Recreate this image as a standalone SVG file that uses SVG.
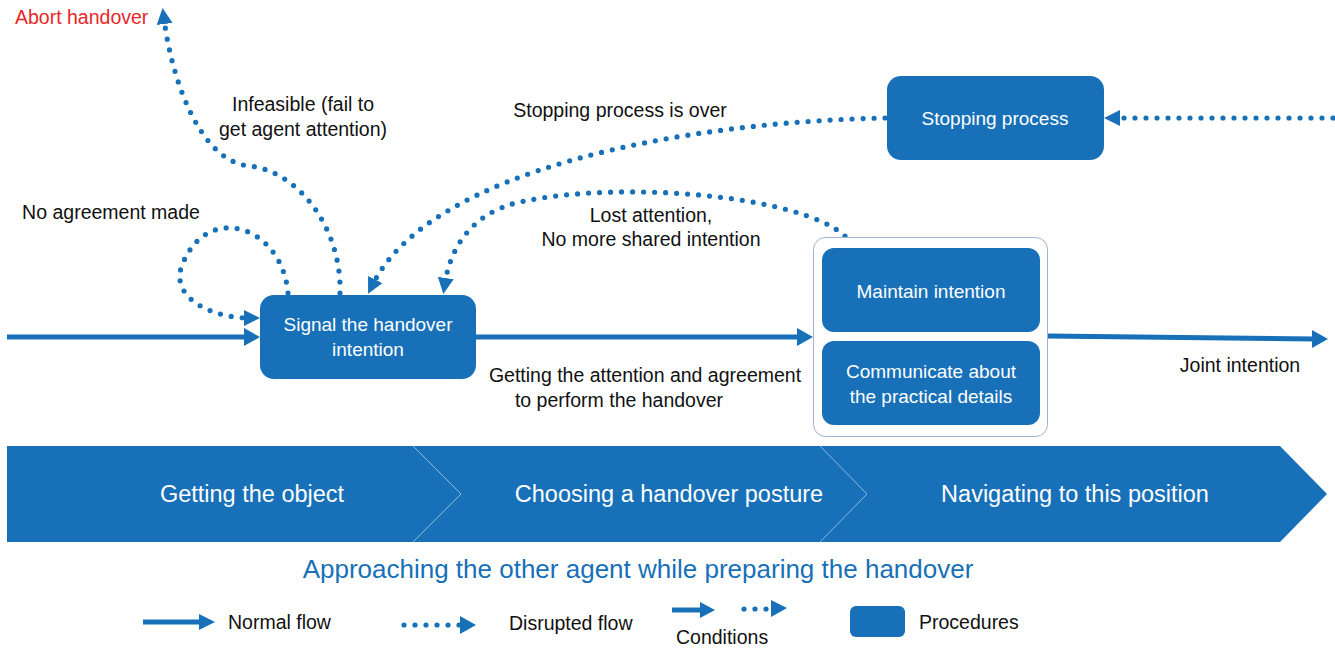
<svg xmlns="http://www.w3.org/2000/svg" width="1335" height="649" viewBox="0 0 1335 649">
<style>
  .proc { fill: #1770B8; }
  .wt { fill: #FFFFFF; font-family: "Liberation Sans", Arial, sans-serif; font-size: 19px; text-anchor: middle; }
  .bt { fill: #111111; font-family: "Liberation Sans", Arial, sans-serif; font-size: 19.5px; text-anchor: middle; }
  .lt { fill: #111111; font-family: "Liberation Sans", Arial, sans-serif; font-size: 19.5px; }
  .band { fill: #FFFFFF; font-family: "Liberation Sans", Arial, sans-serif; font-size: 23.5px; text-anchor: middle; }
  .solid { stroke: #1770B8; stroke-width: 5; fill: none; }
  .dot { stroke: #1770B8; stroke-width: 5.2; fill: none; stroke-linecap: round; stroke-dasharray: 0 11; }
  .head { fill: #1770B8; }
</style>
<defs>
  <marker id="dh" viewBox="0 0 16 16" refX="5" refY="8" markerWidth="16" markerHeight="16" markerUnits="userSpaceOnUse" orient="auto">
    <path d="M0,0 L16,8 L0,16 z" fill="#1770B8"/>
  </marker>
</defs>
<rect width="1335" height="649" fill="#FFFFFF"/>

<g id="connectors">
  <line class="solid" x1="7" y1="337" x2="246" y2="337"/>
  <polygon class="head" points="244,328 260,337 244,346"/>
  <line class="solid" x1="476" y1="337" x2="799" y2="337"/>
  <polygon class="head" points="797,328 813,337 797,346"/>
  <line class="solid" x1="1047" y1="336" x2="1314" y2="339"/>
  <polygon class="head" points="1312,330 1328,339 1312,348"/>
  <path class="dot" marker-end="url(#dh)" d="M 288 293 C 282 225, 205 200, 181 268 C 172 300, 215 318, 249 318"/>
  <path class="dot" marker-end="url(#dh)" d="M 340 293 C 342 230, 300 172, 250 166 C 200 162, 172 80, 164 19"/>
  <path class="dot" marker-end="url(#dh)" d="M 885 118 C 680 122, 430 170, 373 284"/>
  <path class="dot" marker-end="url(#dh)" d="M 845 236 C 800 195, 620 180, 520 202 C 470 213, 450 250, 445 283"/>
  <path class="dot" marker-end="url(#dh)" d="M 1333 118 L 1115 118"/>
</g>

<g id="n-signal">
  <rect class="proc" x="260" y="295" width="216" height="84" rx="14"/>
  <text class="wt" x="368" y="331">Signal the handover</text>
  <text class="wt" x="368" y="356">intention</text>
</g>

<g id="n-stopping">
  <rect class="proc" x="887" y="76" width="217" height="84" rx="14"/>
  <text class="wt" x="995" y="125">Stopping process</text>
</g>

<g id="n-container">
  <rect x="813.5" y="237.5" width="234" height="199" rx="12" fill="#FFFFFF" stroke="#9DB3CF" stroke-width="1"/>
</g>
<g id="n-maintain">
  <rect class="proc" x="822" y="248" width="218" height="84" rx="12"/>
  <text class="wt" x="931" y="298">Maintain intention</text>
</g>
<g id="n-communicate">
  <rect class="proc" x="822" y="341" width="218" height="84" rx="12"/>
  <text class="wt" x="931" y="378">Communicate about</text>
  <text class="wt" x="931" y="403">the practical details</text>
</g>

<g id="labels">
  <text x="15" y="24" font-family="Liberation Sans, Arial, sans-serif" font-size="19.5" fill="#E8262A">Abort handover</text>
  <text class="bt" x="303" y="111">Infeasible (fail to</text>
  <text class="bt" x="303" y="136">get agent attention)</text>
  <text class="bt" x="111" y="219">No agreement made</text>
  <text class="bt" x="620" y="117">Stopping process is over</text>
  <text class="bt" x="651" y="222">Lost attention,</text>
  <text class="bt" x="651" y="246">No more shared intention</text>
  <text class="bt" x="645" y="382">Getting the attention and agreement</text>
  <text class="bt" x="619" y="407">to perform the handover</text>
  <text class="bt" x="1240" y="372">Joint intention</text>
</g>

<g id="n-band">
  <polygon class="proc" points="7,446 1280,446 1327,494 1280,542 7,542"/>
  <polyline points="413,446 461,494 413,542" fill="none" stroke="#8FB8DE" stroke-width="1"/>
  <polyline points="820,446 867,494 820,542" fill="none" stroke="#8FB8DE" stroke-width="1"/>
  <text class="band" x="252" y="502">Getting the object</text>
  <text class="band" x="669" y="502">Choosing a handover posture</text>
  <text class="band" x="1075" y="502">Navigating to this position</text>
</g>

<g id="caption">
  <text x="638" y="578" font-family="Liberation Sans, Arial, sans-serif" font-size="26" fill="#1770B8" text-anchor="middle">Approaching the other agent while preparing the handover</text>
</g>

<g id="legend">
  <line class="solid" x1="143" y1="622" x2="201" y2="622"/>
  <polygon class="head" points="199,614 215,622 199,630"/>
  <text class="lt" x="228" y="629">Normal flow</text>
  <line class="dot" x1="404" y1="625" x2="460" y2="625"/>
  <polygon class="head" points="460,616 476,625 460,634"/>
  <text class="lt" x="509" y="630">Disrupted flow</text>
  <line class="solid" x1="672" y1="610" x2="702" y2="610"/>
  <polygon class="head" points="700,602 715,610 700,618"/>
  <line class="dot" x1="744" y1="609" x2="767" y2="609" stroke-dasharray="0 11.2"/>
  <polygon class="head" points="771,600 787,608 771,617"/>
  <text class="lt" x="676" y="644">Conditions</text>
  <rect class="proc" x="850" y="606" width="55" height="31" rx="6"/>
  <text class="lt" x="919" y="629">Procedures</text>
</g>
</svg>
